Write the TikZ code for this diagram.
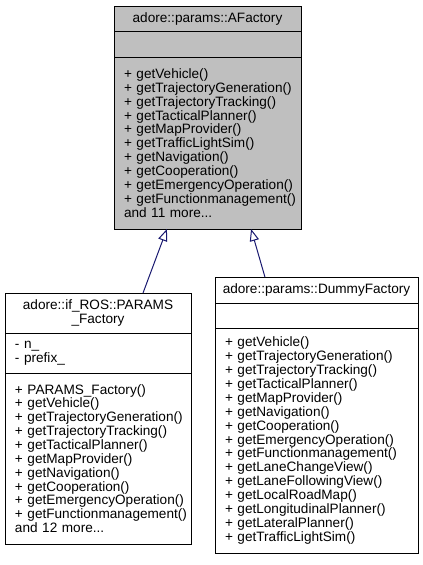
\documentclass[tikz,border=0pt]{standalone}
\usepackage{fontspec}
\setmainfont{Liberation Sans}
\usetikzlibrary{positioning, arrows.meta, calc}
\hyphenpenalty=10000
\exhyphenpenalty=10000
\definecolor{grisClasse}{RGB}{191,191,191}
\definecolor{blauHerencia}{RGB}{25,25,112}
\tikzstyle{classeTitol} = [rectangle, draw=black, line width=0.75pt, outer sep=0pt, inner sep=0pt, align=center, font=\fontsize{10.2}{10.4}\selectfont]
\tikzstyle{classePart} = [rectangle, draw=black, line width=0.75pt, outer sep=0pt, inner xsep=7.5pt, inner ysep=0pt, align=left, font=\fontsize{10.2}{10.4}\selectfont]
\tikzstyle{herencia} = [draw=blauHerencia, line width=0.75pt, -{Triangle[open, length=9pt, width=7pt]}]

\begin{document}
\begin{tikzpicture}

	\useasboundingbox (0,0) rectangle (317.25pt,-423.75pt);

	% Classe base
	\node (afTitol) [classeTitol, fill=grisClasse, minimum width=140.25pt, minimum height=18.75pt, anchor=north west] at (85.5pt,-4.5pt) {adore::params::AFactory};
	\node (afAtributs) [classePart, fill=grisClasse, minimum height=19.5pt, text width=125.25pt, below=0pt of afTitol] {};
	\node (afMetodes) [classePart, fill=grisClasse, minimum height=129pt, text width=125.25pt, below=0pt of afAtributs] {+~getVehicle()\\+~getTrajectoryGeneration()\\+~getTrajectoryTracking()\\+~getTacticalPlanner()\\+~getMapProvider()\\+~getTrafficLightSim()\\+~getNavigation()\\+~getCooperation()\\+~getEmergencyOperation()\\+~getFunctionmanagement()\\and 11 more...};

	% Classe derivada ROS
	\node (ifTitol) [classeTitol, minimum width=139.5pt, minimum height=30pt, anchor=north west] at (3.75pt,-219.75pt) {adore::if\_ROS::PARAMS\\\_Factory};
	\node (ifAtributs) [classePart, minimum height=30pt, text width=124.5pt, below=0pt of ifTitol] {-~n\_\\-~prefix\_};
	\node (ifMetodes) [classePart, minimum height=128.25pt, text width=124.5pt, below=0pt of ifAtributs] {+~PARAMS\_Factory()\\+~getVehicle()\\+~getTrajectoryGeneration()\\+~getTrajectoryTracking()\\+~getTacticalPlanner()\\+~getMapProvider()\\+~getNavigation()\\+~getCooperation()\\+~getEmergencyOperation()\\+~getFunctionmanagement()\\and 12 more...};

	% Classe derivada Dummy
	\node (dfTitol) [classeTitol, minimum width=152.25pt, minimum height=19.5pt, anchor=north west] at (161.25pt,-207.75pt) {adore::params::DummyFactory};
	\node (dfAtributs) [classePart, minimum height=18.75pt, text width=137.25pt, below=0pt of dfTitol] {};
	\node (dfMetodes) [classePart, minimum height=168.75pt, text width=137.25pt, below=0pt of dfAtributs] {+~getVehicle()\\+~getTrajectoryGeneration()\\+~getTrajectoryTracking()\\+~getTacticalPlanner()\\+~getMapProvider()\\+~getNavigation()\\+~getCooperation()\\+~getEmergencyOperation()\\+~getFunctionmanagement()\\+~getLaneChangeView()\\+~getLaneFollowingView()\\+~getLocalRoadMap()\\+~getLongitudinalPlanner()\\+~getLateralPlanner()\\+~getTrafficLightSim()};

	% Fletxes d'herencia
	\draw [herencia] ($(ifTitol.north west)!0.742!(ifTitol.north east)$) -- ($(afMetodes.south west)!0.283!(afMetodes.south east)$);
	\draw [herencia] ($(dfTitol.north west)!0.246!(dfTitol.north east)$) -- ($(afMetodes.south west)!0.733!(afMetodes.south east)$);

\end{tikzpicture}
\end{document}
